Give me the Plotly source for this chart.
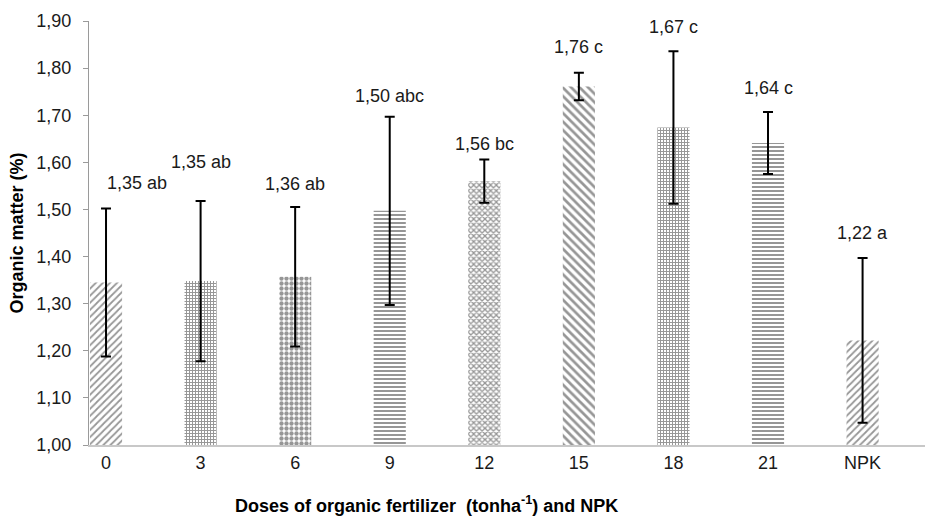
import plotly.graph_objects as go

categories = ["0", "3", "6", "9", "12", "15", "18", "21", "NPK"]
means = [1.345, 1.348, 1.357, 1.497, 1.560, 1.761, 1.674, 1.641, 1.222]
sds = [0.157, 0.170, 0.148, 0.200, 0.046, 0.029, 0.162, 0.066, 0.175]
labels = ["1,35 ab", "1,35 ab", "1,36 ab", "1,50 abc", "1,56 bc", "1,76 c", "1,67 c", "1,64 c", "1,22 a"]
y_ticks = [1.0, 1.1, 1.2, 1.3, 1.4, 1.5, 1.6, 1.7, 1.8, 1.9]
y_ticktext = ["1,00", "1,10", "1,20", "1,30", "1,40", "1,50", "1,60", "1,70", "1,80", "1,90"]

# styling (not data)
shapes = ["/", "+", ".", "-", "x", "\\", "+", "-", "/"]
pat_sizes = [5, 3, 5, 4, 4, 6, 3, 4, 5]
solid = [0.35, 0.55, 0.6, 0.5, 0.55, 0.45, 0.55, 0.5, 0.35]
label_shift = [26, 39, 23, 21, 16, 26, 24, 24, 25]
label_xshift = [31, 0, 0, 0, 0, 0, 0, 0, 0]

x_idx = list(range(len(categories)))
FONT = "Liberation Sans, Arial, sans-serif"

fig = go.Figure()
fig.add_trace(go.Bar(
    x=x_idx, y=[m - 1.0 for m in means], base=1.0,
    width=0.34,
    marker=dict(
        color="white",
        line=dict(width=0),
        pattern=dict(shape=shapes, size=pat_sizes, solidity=solid,
                     fgcolor="#2e2e2e", bgcolor="white", fillmode="overlay"),
    ),
    error_y=dict(type="data", array=sds, visible=True, color="black",
                 thickness=2, width=5),
    showlegend=False,
))

for i, (m, s, t) in enumerate(zip(means, sds, labels)):
    fig.add_annotation(x=i, y=m + s, text=t, showarrow=False,
                       yshift=label_shift[i], xshift=label_xshift[i], yanchor="middle",
                       font=dict(family=FONT, size=18, color="#1a1a1a"))

fig.add_annotation(
    xref="paper", yref="paper", x=0.404, y=-0.1415, xanchor="center", yanchor="middle",
    text="<b>Doses of organic fertilizer  (tonha<sup>-1</sup>) and NPK</b>", showarrow=False,
    font=dict(family=FONT, size=18, color="black"),
)

fig.update_layout(
    width=929, height=527,
    margin=dict(l=89, r=4, t=21, b=82),
    plot_bgcolor="white", paper_bgcolor="white",
    font=dict(family=FONT, size=18, color="#1a1a1a"),
)
fig.update_xaxes(
    range=[-0.18, 8.66], tickvals=x_idx, ticktext=categories,
    showline=True, linecolor="#c8c8c8", linewidth=2, ticks="",
    showgrid=False, zeroline=False,
    tickfont=dict(size=18),
)
fig.update_yaxes(
    range=[1.0, 1.9], tickvals=y_ticks, ticktext=y_ticktext,
    showline=True, linecolor="#9a9a9a", linewidth=1, ticks="outside",
    ticklen=5, tickcolor="#9a9a9a", ticklabelstandoff=8,
    showgrid=False, zeroline=False,
    title=dict(text="<b>Organic matter (%)</b>", font=dict(family=FONT, size=18, color="black"), standoff=8),
    tickfont=dict(size=18),
)

fig.write_html("out.html")
